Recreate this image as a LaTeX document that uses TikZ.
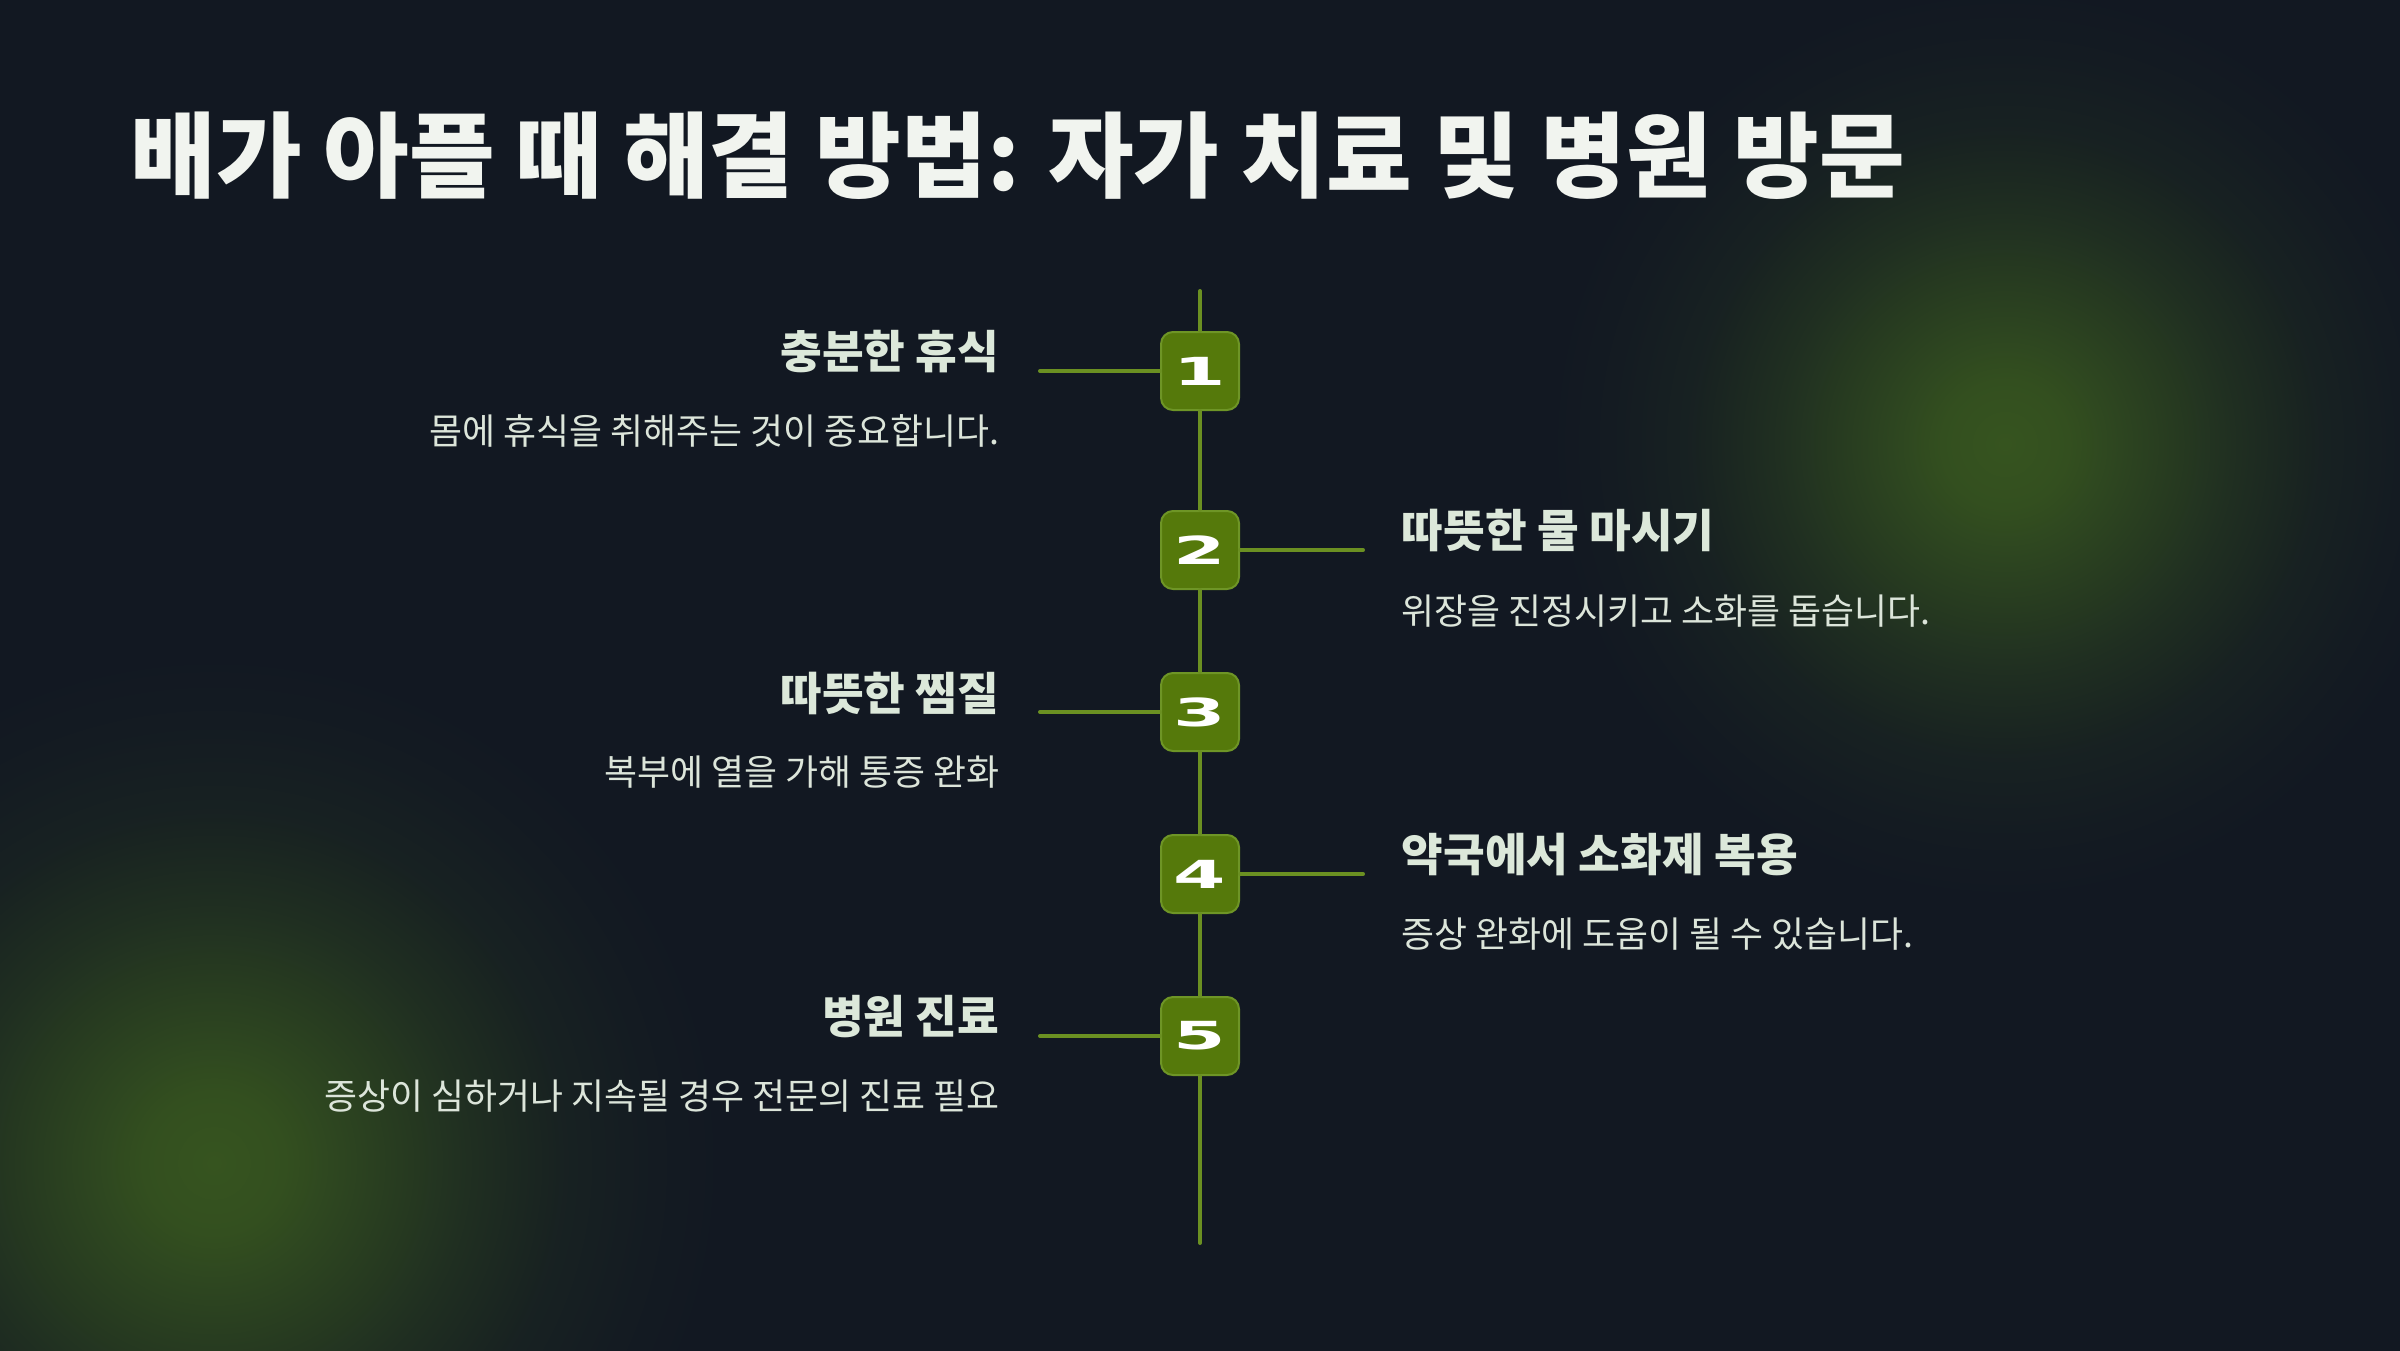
\documentclass[tikz,border=0pt]{standalone}
\usepackage{fontspec}
\setmainfont{Noto Sans CJK KR}
\newfontfamily\numfont{DejaVu Sans}
\usetikzlibrary{calc}

\definecolor{bgdark}{HTML}{121822}
\definecolor{glowgreen}{RGB}{54,84,31}
\definecolor{boxgreen}{HTML}{55790B}
\definecolor{boxedge}{HTML}{6E9526}
\definecolor{railgreen}{HTML}{6B9022}
\definecolor{titlecol}{HTML}{F1F4EF}
\definecolor{headcol}{HTML}{DCE8DA}
\definecolor{desccol}{HTML}{DCE5DA}

% soft falloff for the background glows
\pgfdeclareradialshading{softglow}{\pgfpoint{0bp}{0bp}}{%
  color(0bp)=(glowgreen); color(3bp)=(glowgreen!92!bgdark);
  color(7bp)=(glowgreen!65!bgdark); color(11bp)=(glowgreen!38!bgdark);
  color(15bp)=(glowgreen!16!bgdark); color(19bp)=(glowgreen!5!bgdark);
  color(22bp)=(bgdark); color(25bp)=(bgdark); color(50bp)=(bgdark)}

\begin{document}
\begin{tikzpicture}[x=0.1mm, y=-0.1mm,
  stepbox/.style={draw=boxedge, line width=0.2mm, fill=boxgreen, rounded corners=1.2mm,
    minimum size=7.8mm, inner sep=0pt, text=white,
    font=\numfont\bfseries\fontsize{11}{12}\selectfont},
  rail/.style={draw=railgreen, line width=0.4mm, line cap=round},
  titletext/.style={text=titlecol, inner sep=0pt, font=\bfseries\fontsize{26.5}{30}\selectfont},
  headtext/.style={text=headcol, inner sep=0pt, font=\bfseries\fontsize{12.9}{15}\selectfont},
  desctext/.style={text=desccol, inner sep=0pt, font=\fontsize{10.2}{12}\selectfont}]

\useasboundingbox (0,0) rectangle (2400,1350);
\fill[bgdark] (-20,-20) rectangle (2420,1370);

% soft glows
\shade[shading=softglow] (2005,444) circle (520);
\shade[shading=softglow] (214,1163) circle (580);

\node[titletext, anchor=west] (title) at (130,156) {배가 아플 때 해결 방법: 자가 치료 및 병원 방문};

% timeline
\coordinate (railtop) at (1200,291);
\coordinate (railbot) at (1200,1243);

\node[stepbox] (s1) at (1200,371) {\scalebox{1.95}[1]{1}};
\node[stepbox] (s2) at (1200,550) {\scalebox{1.95}[1]{2}};
\node[stepbox] (s3) at (1200,712) {\scalebox{1.95}[1]{3}};
\node[stepbox] (s4) at (1200,874) {\scalebox{1.95}[1]{4}};
\node[stepbox] (s5) at (1200,1036) {\scalebox{1.95}[1]{5}};

\draw[rail] (railtop) -- (s1) -- (s2) -- (s3) -- (s4) -- (s5) -- (railbot);

\coordinate (e1) at (1040,371);
\coordinate (e2) at (1363,550);
\coordinate (e3) at (1040,712);
\coordinate (e4) at (1363,874);
\coordinate (e5) at (1040,1036);

\draw[rail] (s1) -- (e1);
\draw[rail] (s2) -- (e2);
\draw[rail] (s3) -- (e3);
\draw[rail] (s4) -- (e4);
\draw[rail] (s5) -- (e5);

% labels
\node[headtext, anchor=east] (h1) at (1000,352) {충분한 휴식};
\node[desctext, anchor=east] (d1) at (1000,431) {몸에 휴식을 취해주는 것이 중요합니다.};

\node[headtext, anchor=west] (h2) at (1401,531) {따뜻한 물 마시기};
\node[desctext, anchor=west] (d2) at (1401,611) {위장을 진정시키고 소화를 돕습니다.};

\node[headtext, anchor=east] (h3) at (1000,693) {따뜻한 찜질};
\node[desctext, anchor=east] (d3) at (1000,772) {복부에 열을 가해 통증 완화};

\node[headtext, anchor=west] (h4) at (1401,855) {약국에서 소화제 복용};
\node[desctext, anchor=west] (d4) at (1401,934) {증상 완화에 도움이 될 수 있습니다.};

\node[headtext, anchor=east] (h5) at (1000,1017) {병원 진료};
\node[desctext, anchor=east] (d5) at (1000,1096) {증상이 심하거나 지속될 경우 전문의 진료 필요};

\end{tikzpicture}
\end{document}
